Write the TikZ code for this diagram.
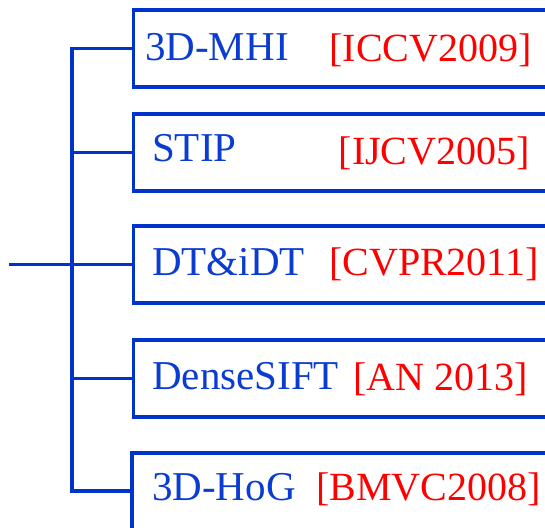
\documentclass[tikz,border=0pt]{standalone}
\usepackage{fontspec}
\setmainfont{Liberation Serif}
\definecolor{lineblue}{RGB}{0,51,204}
\definecolor{txtblue}{RGB}{10,60,210}
\definecolor{txtred}{RGB}{255,0,0}
\begin{document}
\begin{tikzpicture}[x=1pt,y=-1pt,
  conn/.style={draw=lineblue,line width=3.6pt},
  boxnode/.style={draw=lineblue,line width=3.6pt,rectangle,anchor=north west,
    minimum width=460pt,minimum height=77pt,inner sep=0pt,outer sep=0pt},
  meth/.style={anchor=base west,text=txtblue,font=\fontsize{41}{44}\selectfont,inner sep=0pt},
  cite/.style={anchor=base east,text=txtred,font=\fontsize{40}{44}\selectfont,inner sep=0pt}]
\useasboundingbox (0,0) rectangle (545,527);
\clip (0,0) rectangle (545,527);
\fill[white] (0,0) rectangle (545,527);
% boxes
\node[boxnode] (b1) at (133.3,10) {};
\node[boxnode] (b2) at (133.3,114) {};
\node[boxnode] (b3) at (133.3,226) {};
\node[boxnode] (b4) at (133.3,340) {};
\node[boxnode] (b5) at (131.7,452.7) {};
% texts
\node[meth] (m1) at (145,60.7) {3D-MHI};
\node[cite] (c1) at (532,61.3) {[ICCV2009]};
\node[meth] (m2) at (152,161.7) {STIP};
\node[cite] (c2) at (530,164.5) {[IJCV2005]};
\node[meth] (m3) at (152,275) {DT\&iDT};
\node[cite] (c3) at (539,275) {[CVPR2011]};
\node[meth] (m4) at (152,389) {DenseSIFT};
\node[cite] (c4) at (528,390) {[AN 2013]};
\node[meth] (m5) at (152,500.7) {3D-HoG};
\node[cite] (c5) at (541,500) {[BMVC2008]};
% tree connectors
\coordinate (spine) at (72,0);
\coordinate (root) at (9,0);
\draw[conn] (b1.west) -- (b1.west -| spine) -- (b5.west -| spine) -- (b5.west);
\draw[conn] (b2.west -| spine) -- (b2.west);
\draw[conn] (b4.west -| spine) -- (b4.west);
\draw[conn] (root |- b3.west) -- (b3.west);
\end{tikzpicture}
\end{document}
